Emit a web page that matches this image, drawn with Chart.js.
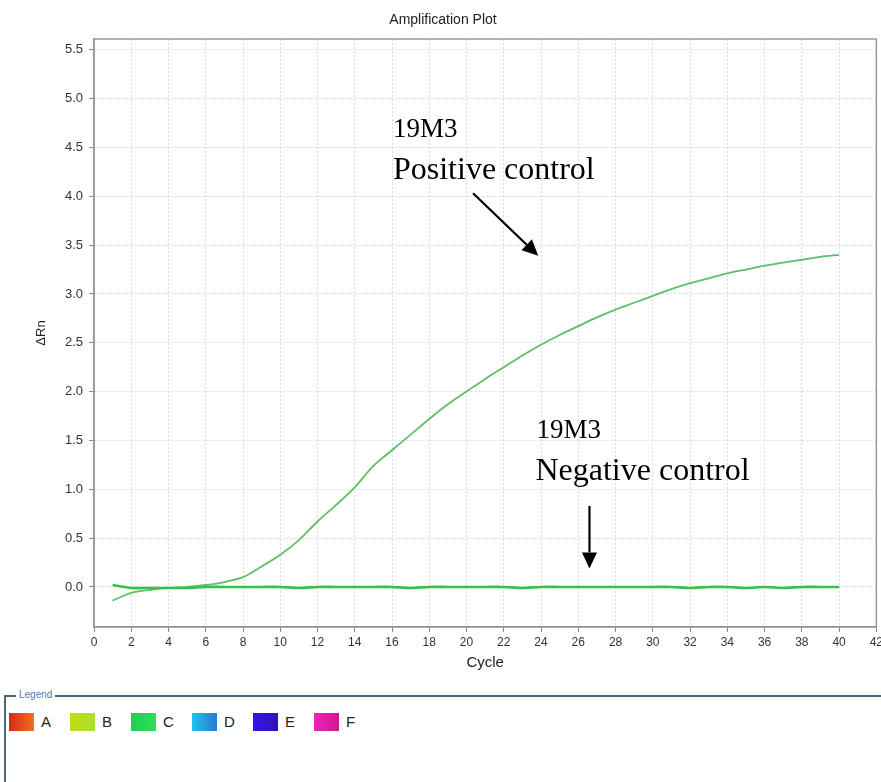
<!DOCTYPE html>
<html><head><meta charset="utf-8">
<script src="https://cdn.jsdelivr.net/npm/chart.js@4.4.1/dist/chart.umd.min.js"></script>
<style>
body{margin:0;background:#fff;width:881px;height:782px;overflow:hidden;position:relative;font-family:"Liberation Sans",Arial,sans-serif;}
#wrap{position:absolute;left:0;top:0;width:886px;height:680px;}
#lgbox{position:absolute;left:4px;top:695px;width:900px;height:120px;border-top:2px solid #4b6877;border-left:2px solid #4b6877;}
#lgtitle{position:absolute;left:16px;top:688px;font-size:10px;color:#5a78a8;background:#fff;padding:0 3px;line-height:13px;}
#items{position:absolute;left:9px;top:712px;height:20px;}
.it{position:absolute;top:0;height:20px;font-size:15px;line-height:20px;color:#222;}
.sw{position:absolute;left:0;top:1px;width:25px;height:18px;}
.lb{position:absolute;left:32px;top:0;}
</style>
</head><body>
<div id="wrap"><canvas id="c"></canvas></div>
<div id="lgbox"></div>
<div id="lgtitle">Legend</div>
<div id="items"></div>
<script>
// ---- data ----
const cycles = [1,2,3,4,5,6,7,8,9,10,11,12,13,14,15,16,17,18,19,20,21,22,23,24,25,26,27,28,29,30,31,32,33,34,35,36,37,38,39,40];
const positiveControl = [-0.14,-0.06,-0.03,-0.01,0.00,0.02,0.05,0.10,0.21,0.33,0.48,0.67,0.84,1.02,1.24,1.40,1.56,1.72,1.87,2.00,2.13,2.25,2.37,2.48,2.58,2.67,2.76,2.84,2.91,2.98,3.05,3.11,3.16,3.21,3.25,3.29,3.32,3.35,3.38,3.40];
const negativeControl = [0.02,-0.01,-0.01,-0.01,-0.01,0.00,0.00,0.00,0.00,0.00,-0.01,0.00,0.00,0.00,0.00,0.00,-0.01,0.00,0.00,0.00,0.00,0.00,-0.01,0.00,0.00,0.00,0.00,0.00,0.00,0.00,0.00,-0.01,0.00,0.00,-0.01,0.00,-0.01,0.00,0.00,0.00];
const yTickValues = [0,0.5,1.0,1.5,2.0,2.5,3.0,3.5,4.0,4.5,5.0,5.5];
const xTickStep = 2;
const legendLabels = ['A','B','C','D','E','F'];
const legendColors = [['#d42a1c','#f2701e'],['#c2dc12','#a8e030'],['#22d048','#30dc60'],['#20c4ec','#2a78cc'],['#3a10f0','#2a18b0'],['#f020c0','#d01890']];
// annotation texts, anchored in data coordinates [cycle, ΔRn]
const annoTexts = [
  {text:'19M3', at:[16.05,4.61], size:27},
  {text:'Positive control', at:[16.05,4.18], size:32},
  {text:'19M3', at:[23.75,1.53], size:27},
  {text:'Negative control', at:[23.7,1.09], size:32}
];
const annoArrows = [
  {from:[20.35,4.03], to:[23.85,3.39]},
  {from:[26.6,0.83], to:[26.6,0.19]}
];

// ---- legend (HTML) ----
const itemsEl = document.getElementById('items');
legendLabels.forEach((l,i)=>{
  const d=document.createElement('div'); d.className='it'; d.style.left=(i*61)+'px';
  const s=document.createElement('div'); s.className='sw';
  s.style.background='linear-gradient(to right,'+legendColors[i][0]+','+legendColors[i][1]+')';
  const t=document.createElement('span'); t.className='lb'; t.textContent=l;
  d.appendChild(s); d.appendChild(t); itemsEl.appendChild(d);
});

const annoPlugin = {
  id:'anno',
  afterDatasetsDraw(chart){
    const {ctx, scales:{x,y}} = chart;
    ctx.save();
    ctx.fillStyle='#000'; ctx.strokeStyle='#000';
    ctx.textBaseline='alphabetic'; ctx.textAlign='left';
    annoTexts.forEach(a=>{
      ctx.font = a.size+'px "Liberation Serif","Times New Roman",serif';
      ctx.fillText(a.text, x.getPixelForValue(a.at[0]), y.getPixelForValue(a.at[1]));
    });
    annoArrows.forEach(a=>{
      const x1=x.getPixelForValue(a.from[0]), y1=y.getPixelForValue(a.from[1]);
      const x2=x.getPixelForValue(a.to[0]), y2=y.getPixelForValue(a.to[1]);
      const ang=Math.atan2(y2-y1,x2-x1), hl=16, hw=7.5;
      const bx=x2-hl*Math.cos(ang), by=y2-hl*Math.sin(ang);
      ctx.lineWidth=2.2;
      ctx.beginPath(); ctx.moveTo(x1,y1); ctx.lineTo(bx,by); ctx.stroke();
      ctx.beginPath(); ctx.moveTo(x2,y2);
      ctx.lineTo(bx+hw*Math.sin(ang), by-hw*Math.cos(ang));
      ctx.lineTo(bx-hw*Math.sin(ang), by+hw*Math.cos(ang));
      ctx.closePath(); ctx.fill();
    });
    ctx.restore();
  }
};
const framePlugin = {
  id:'frame',
  afterDraw(chart){
    const {ctx, chartArea:a} = chart;
    ctx.save(); ctx.strokeStyle='#9a9a9a'; ctx.lineWidth=1.5;
    ctx.strokeRect(a.left, a.top, a.right-a.left, a.bottom-a.top);
    ctx.restore();
  }
};

const toPts = vals => cycles.map((c,i)=>({x:c,y:vals[i]}));
new Chart(document.getElementById('c'), {
  type:'line',
  data:{datasets:[
    {label:'19M3 Negative control', data:toPts(negativeControl), borderColor:'#36c24a', borderWidth:2.6, pointRadius:0, tension:0.3, fill:false},
    {label:'19M3 Positive control', data:toPts(positiveControl), borderColor:'#5cbf6a', borderWidth:1.8, pointRadius:0, tension:0.3, fill:false}
  ]},
  options:{
    responsive:true, maintainAspectRatio:false, animation:false,
    layout:{padding:{left:0,right:0,top:0,bottom:0}},
    plugins:{
      legend:{display:false}, tooltip:{enabled:false},
      title:{display:true, text:'Amplification Plot', color:'#222', font:{family:'"Liberation Sans",Arial,sans-serif', size:14, weight:'normal', lineHeight:1.2}, padding:{top:11.6,bottom:10.6}}
    },
    scales:{
      x:{type:'linear', min:0, max:42,
        ticks:{stepSize:xTickStep, color:'#333', font:{family:'"Liberation Sans",Arial,sans-serif', size:12}, padding:3, maxRotation:0, autoSkip:false},
        grid:{color:'#d9d9d9', tickLength:5, tickColor:'#888', tickBorderDash:[]},
        border:{color:'#888', width:1.5, dash:[2,2]},
        title:{display:true, text:'Cycle', color:'#222', font:{family:'"Liberation Sans",Arial,sans-serif', size:15, lineHeight:1.2}, padding:{top:2,bottom:8}},
        afterFit(s){ s.height = 53; }
      },
      y:{type:'linear', min:-0.41, max:5.61,
        afterBuildTicks(s){ s.ticks = yTickValues.map(v=>({value:v})); },
        ticks:{color:'#333', font:{family:'"Liberation Sans",Arial,sans-serif', size:13}, padding:6, callback:v=>Number(v).toFixed(1)},
        grid:{color:'#d9d9d9', tickLength:5, tickColor:'#888', tickBorderDash:[]},
        border:{color:'#888', width:1.5, dash:[2,2]},
        title:{display:true, text:'ΔRn', color:'#222', font:{family:'"Liberation Sans",Arial,sans-serif', size:13, lineHeight:1.2}, padding:{top:34,bottom:0}},
        afterFit(s){ s.width = 94; }
      }
    }
  },
  plugins:[annoPlugin, framePlugin]
});
</script>
</body></html>
